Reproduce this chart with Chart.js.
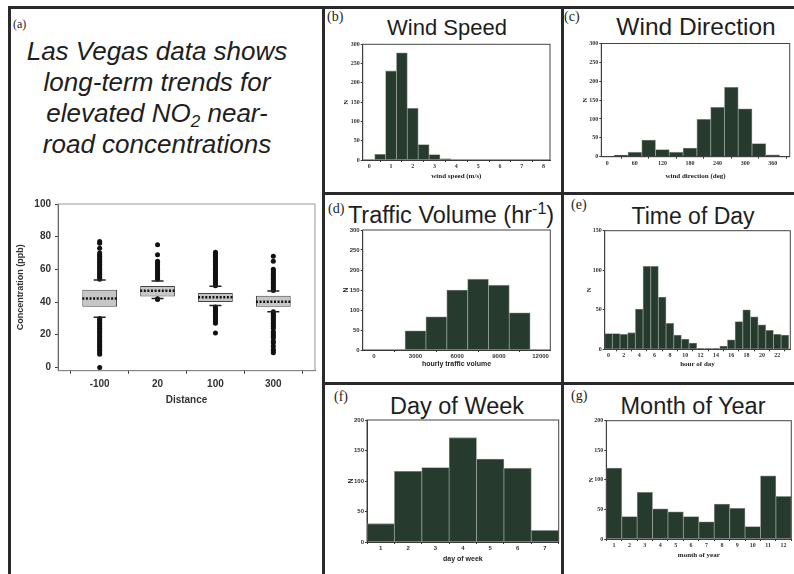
<!DOCTYPE html>
<html>
<head>
<meta charset="utf-8">
<script src="https://cdn.jsdelivr.net/npm/chart.js@4.4.0/dist/chart.umd.min.js"></script>
<style>
body { margin:0; width:794px; height:574px; background:#fff; position:relative; overflow:hidden;
       font-family:"Liberation Sans", Arial, sans-serif; color:#1e1e1e; }
.rule { position:absolute; background:#2a2a2a; }
.tag { position:absolute; font-family:"Liberation Serif", serif; font-size:14px; line-height:14px; color:#222; }
.ttl { position:absolute; font-size:23px; line-height:22px; white-space:nowrap; transform:translateX(-50%); }
.ttl sup { font-size:16px; vertical-align:9px; line-height:0; }
.intro { position:absolute; left:7px; top:36px; width:300px; text-align:center; font-style:italic;
         font-size:26px; line-height:31px; }
.intro sub { font-size:17px; vertical-align:-5px; line-height:0; }
canvas { position:absolute; }
</style>
</head>
<body>
<div class="rule" style="left:8px;top:6px;width:786px;height:3px"></div>
<div class="rule" style="left:8px;top:6px;width:3px;height:568px"></div>
<div class="rule" style="left:322px;top:6px;width:3px;height:568px"></div>
<div class="rule" style="left:561px;top:6px;width:3px;height:568px"></div>
<div class="rule" style="left:322px;top:192px;width:472px;height:3px"></div>
<div class="rule" style="left:322px;top:382px;width:472px;height:3px"></div>

<div class="tag" style="left:13px;top:17px;font-size:12px">(a)</div>
<div class="intro">Las Vegas data shows<br>long-term trends for<br>elevated NO<sub>2</sub> near-<br>road concentrations</div>

<div class="tag" style="left:327px;top:10px">(b)</div>
<div class="ttl" style="left:447px;top:17px;font-size:22px">Wind Speed</div>
<div class="tag" style="left:564px;top:10px">(c)</div>
<div class="ttl" style="left:696px;top:16px;font-size:24.5px">Wind Direction</div>
<div class="tag" style="left:328px;top:202px">(d)</div>
<div class="ttl" style="left:451px;top:204px;font-size:23.5px">Traffic Volume (hr<sup>-1</sup>)</div>
<div class="tag" style="left:571px;top:198px">(e)</div>
<div class="ttl" style="left:693px;top:205px">Time of Day</div>
<div class="tag" style="left:334px;top:390px">(f)</div>
<div class="ttl" style="left:457px;top:395px;font-size:23.5px">Day of Week</div>
<div class="tag" style="left:571px;top:389px">(g)</div>
<div class="ttl" style="left:693px;top:395px;font-size:23.5px">Month of Year</div>

<canvas id="boxChart"></canvas>
<canvas id="speedChart"></canvas>
<canvas id="dirChart"></canvas>
<canvas id="trafficChart"></canvas>
<canvas id="hourChart"></canvas>
<canvas id="dowChart"></canvas>
<canvas id="monthChart"></canvas>

<script>
// (a) NO2 by distance from road
const distLabels = ['-100', '20', '100', '300'];
const boxLow = [37.1, 43.4, 40.0, 37.1];
const boxHigh = [47.5, 49.8, 45.5, 43.9];
const medians = [42.2, 46.9, 43.0, 40.2];
const whiskLow = [30.7, 42.2, 37.9, 34.0];
const whiskHigh = [53.5, 52.9, 49.6, 46.7];
const outliers = [
    [0, 8, 9, 10, 11, 12, 13, 14, 15, 16, 17, 18, 19, 20, 21, 22, 23, 24, 25, 26, 27, 28, 29, 30,
     54, 55, 56, 57, 58, 59, 60, 61, 62, 63, 64, 65, 66, 67, 68, 69, 70, 73, 76, 77],
    [41.5, 42, 54, 55, 56, 57, 58, 59, 60, 61, 62, 63, 64, 65, 69, 75],
    [21, 27, 28, 29, 30, 31, 32, 33, 34, 35, 36, 37,
     50, 51, 52, 53, 54, 55, 56, 57, 58, 59, 60, 61, 62, 63, 64, 65, 66, 67, 68, 69, 70, 70.5],
    [9, 10, 11, 13, 15, 16, 18, 19, 20, 21, 22, 24, 25, 26, 27, 28, 29, 30, 31, 32, 33, 34,
     47, 48, 49, 50, 51, 52, 53, 54, 55, 56, 57, 58, 59, 60, 65, 68]
];
const concTicks = [0, 20, 40, 60, 80, 100];

// (b) wind speed
const speedBins = [0.5, 1.0, 1.5, 2.0, 2.5, 3.0, 3.5];
const speedCounts = [15, 231, 278, 134, 40, 14, 3];
const speedTicks = [0, 1, 2, 3, 4, 5, 6, 7, 8];

// (c) wind direction
const dirBins = [0, 30, 60, 90, 120, 150, 180, 210, 240, 270, 300, 330, 360];
const dirCounts = [1, 4, 12, 44, 19, 12, 23, 99, 131, 184, 127, 35, 5];
const dirTicks = [0, 60, 120, 180, 240, 300, 360];

// (d) hourly traffic volume
const trafficBins = [3000, 4500, 6000, 7500, 9000, 10500];
const trafficCounts = [48, 83, 150, 177, 162, 93];
const trafficTicks = [0, 3000, 6000, 9000, 12000];

// (e) hour of day
const hours = [0, 1, 2, 3, 4, 5, 6, 7, 8, 9, 10, 11, 12, 13, 14, 15, 16, 17, 18, 19, 20, 21, 22, 23];
const hourCounts = [20, 20, 19, 21, 51, 105, 105, 66, 33, 18, 13, 8, 1, 1, 1, 4, 12, 35, 50, 41, 31, 24, 19, 18];
const hourTicks = [0, 2, 4, 6, 8, 10, 12, 14, 16, 18, 20, 22];

// (f) day of week
const days = [1, 2, 3, 4, 5, 6, 7];
const dayCounts = [30, 116, 122, 171, 136, 121, 19];

// (g) month of year
const months = [1, 2, 3, 4, 5, 6, 7, 8, 9, 10, 11, 12];
const monthCounts = [120, 38, 79, 51, 46, 38, 29, 59, 52, 21, 107, 72];

const BAR = '#263a2d';
const SANS = 'Liberation Sans';
const SERIF = 'Liberation Serif';

// box round the plot area
const frame = {
    id: 'frame',
    afterDatasetsDraw(chart, args, opts) {
        const a = chart.chartArea, ctx = chart.ctx;
        ctx.save();
        ctx.strokeStyle = opts.color || '#333';
        ctx.lineWidth = 1;
        ctx.strokeRect(a.left, a.top, a.right - a.left, a.bottom - a.top);
        ctx.restore();
    }
};

function place(el, b) {
    el.width = b.w; el.height = b.h;
    el.style.left = b.x + 'px'; el.style.top = b.y + 'px';
}

// histogram panel; box = canvas rect, area = wanted plot area (page coords)
function hist(id, o) {
    const el = document.getElementById(id);
    const b = o.box, a = o.area;
    place(el, b);
    const fam = o.serif ? SERIF : SANS;
    const tickFont = { family: fam, size: 6, weight: 'bold' };
    const titleFont = { family: fam, size: 7, weight: 'bold' };
    new Chart(el, {
        type: 'bar',
        data: {
            datasets: [{
                data: o.bins.map((c, i) => ({ x: c, y: o.counts[i] })),
                backgroundColor: BAR,
                borderColor: '#8a958e',
                borderWidth: 0.8,
                barPercentage: 1,
                categoryPercentage: 1
            }]
        },
        options: {
            responsive: false,
            animation: false,
            layout: { autoPadding: false, padding: { top: a.t - b.y, right: b.x + b.w - a.r, left: 0, bottom: 0 } },
            plugins: { legend: { display: false }, tooltip: { enabled: false }, frame: { color: '#444' } },
            scales: {
                x: {
                    type: 'linear', offset: false, min: o.xMin, max: o.xMax,
                    afterBuildTicks: s => { s.ticks = o.xTicks.map(v => ({ value: v })); },
                    afterFit: s => { s.height = b.y + b.h - a.b; },
                    grid: { drawOnChartArea: false, tickLength: 2, color: '#333' },
                    border: { color: '#333' },
                    ticks: { font: tickFont, color: '#333', padding: 1, maxRotation: 0, autoSkip: false, callback: v => String(v) },
                    title: { display: true, text: o.xTitle, font: titleFont, color: '#222',
                             padding: { top: 0, bottom: b.y + b.h - o.xTitleY - 4.2 } }
                },
                y: {
                    min: 0, max: o.yMax,
                    afterFit: s => { s.width = a.l - b.x; },
                    grid: { drawOnChartArea: false, tickLength: 2, color: '#333' },
                    border: { color: '#333' },
                    ticks: { stepSize: o.yStep, font: tickFont, color: '#333', padding: 1 },
                    title: { display: true, text: 'N', font: titleFont, color: '#222',
                             padding: { top: o.nX - b.x - 4.2, bottom: 0 } }
                }
            }
        },
        plugins: [frame]
    });
}

document.addEventListener('DOMContentLoaded', function() {
    // (a) box plot
    const boxEl = document.getElementById('boxChart');
    const bb = { x: 12, y: 190, w: 308, h: 225 };
    const ba = { l: 58, t: 204, r: 315, b: 370.7 };
    place(boxEl, bb);
    const medianLine = [];
    medians.forEach((m, i) => {
        medianLine.push({ x: i - 0.3, y: m }, { x: i + 0.3, y: m }, { x: i, y: null });
    });
    const whiskPts = [];
    whiskLow.forEach((w, i) => whiskPts.push({ x: i, y: w }, { x: i, y: whiskHigh[i] }));
    const outPts = [];
    outliers.forEach((vals, i) => vals.forEach(v => outPts.push({ x: i, y: v })));
    const boldA = { family: SANS, size: 10, weight: 'bold' };

    new Chart(boxEl, {
        type: 'bar',
        data: {
            datasets: [
                {
                    type: 'bar',
                    data: boxLow.map((lo, i) => ({ x: i, y: [lo, boxHigh[i]] })),
                    backgroundColor: '#c6c6c6',
                    borderColor: '#444',
                    borderWidth: 1,
                    borderSkipped: false,
                    barPercentage: 0.6,
                    categoryPercentage: 1,
                    order: 4
                },
                {
                    type: 'line',
                    data: medianLine,
                    borderColor: '#111',
                    borderWidth: 2.5,
                    borderDash: [2, 1.6],
                    pointRadius: 0,
                    spanGaps: false,
                    order: 1
                },
                {
                    type: 'scatter',
                    data: whiskPts,
                    pointStyle: 'line',
                    pointRadius: 6,
                    borderColor: '#222',
                    borderWidth: 1.5,
                    order: 2
                },
                {
                    type: 'scatter',
                    data: outPts,
                    pointRadius: 2.5,
                    backgroundColor: '#111',
                    borderWidth: 0,
                    order: 3
                }
            ]
        },
        options: {
            responsive: false,
            animation: false,
            layout: { autoPadding: false, padding: { top: ba.t - bb.y, right: bb.x + bb.w - ba.r, left: 0, bottom: 0 } },
            plugins: { legend: { display: false }, tooltip: { enabled: false }, frame: { color: '#999' } },
            scales: {
                x: {
                    type: 'linear', offset: false, min: -0.72, max: 3.72,
                    afterBuildTicks: s => { s.ticks = distLabels.map((d, i) => ({ value: i })); },
                    afterFit: s => { s.height = bb.y + bb.h - ba.b; },
                    grid: { drawOnChartArea: false, tickLength: 3, color: '#333' },
                    border: { color: '#333' },
                    ticks: { font: boldA, color: '#333', padding: 5, callback: v => distLabels[v] },
                    title: { display: true, text: 'Distance', font: { family: SANS, size: 10, weight: 'bold' }, color: '#333',
                             padding: { top: 0, bottom: 9 } }
                },
                y: {
                    min: -2, max: 100,
                    afterBuildTicks: s => { s.ticks = concTicks.map(v => ({ value: v })); },
                    afterFit: s => { s.width = ba.l - bb.x; },
                    grid: { drawOnChartArea: false, tickLength: 3, color: '#333' },
                    border: { color: '#333' },
                    ticks: { font: boldA, color: '#333', padding: 4 },
                    title: { display: true, text: 'Concentration (ppb)', font: { family: SANS, size: 9, weight: 'bold' }, color: '#333',
                             padding: { top: 3.6, bottom: 0 } }
                }
            }
        },
        plugins: [frame]
    });

    hist('speedChart', {
        box: { x: 325, y: 38, w: 236, h: 153 }, area: { l: 362.7, t: 44.3, r: 550, b: 160 },
        bins: speedBins, counts: speedCounts, xMin: -0.3, xMax: 8.3, xTicks: speedTicks,
        yMax: 300, yStep: 50, xTitle: 'wind speed (m/s)', xTitleY: 175.7, nX: 346, serif: true
    });
    hist('dirChart', {
        box: { x: 564, y: 38, w: 230, h: 153 }, area: { l: 601.3, t: 43.5, r: 789.7, b: 156.7 },
        bins: dirBins, counts: dirCounts, xMin: -13, xMax: 397, xTicks: dirTicks,
        yMax: 300, yStep: 50, xTitle: 'wind direction (deg)', xTitleY: 176, nX: 585, serif: true
    });
    hist('trafficChart', {
        box: { x: 325, y: 225, w: 236, h: 156 }, area: { l: 362.7, t: 230, r: 550.3, b: 350 },
        bins: trafficBins, counts: trafficCounts, xMin: -800, xMax: 12700, xTicks: trafficTicks,
        yMax: 300, yStep: 50, xTitle: 'hourly traffic volume', xTitleY: 364, nX: 346, serif: false
    });
    hist('hourChart', {
        box: { x: 564, y: 225, w: 230, h: 156 }, area: { l: 604.7, t: 230.7, r: 790.3, b: 349.3 },
        bins: hours, counts: hourCounts, xMin: -0.5, xMax: 23.7, xTicks: hourTicks,
        yMax: 150, yStep: 50, xTitle: 'hour of day', xTitleY: 364, nX: 589, serif: true
    });
    hist('dowChart', {
        box: { x: 325, y: 415, w: 236, h: 159 }, area: { l: 367, t: 420, r: 558.7, b: 542 },
        bins: days, counts: dayCounts, xMin: 0.5, xMax: 7.5, xTicks: days,
        yMax: 200, yStep: 50, xTitle: 'day of week', xTitleY: 559, nX: 351, serif: false
    });
    hist('monthChart', {
        box: { x: 564, y: 415, w: 230, h: 159 }, area: { l: 606.3, t: 420.7, r: 791.3, b: 539 },
        bins: months, counts: monthCounts, xMin: 0.5, xMax: 12.5, xTicks: months,
        yMax: 200, yStep: 50, xTitle: 'month of year', xTitleY: 555, nX: 591, serif: true
    });
});
</script>
</body>
</html>
